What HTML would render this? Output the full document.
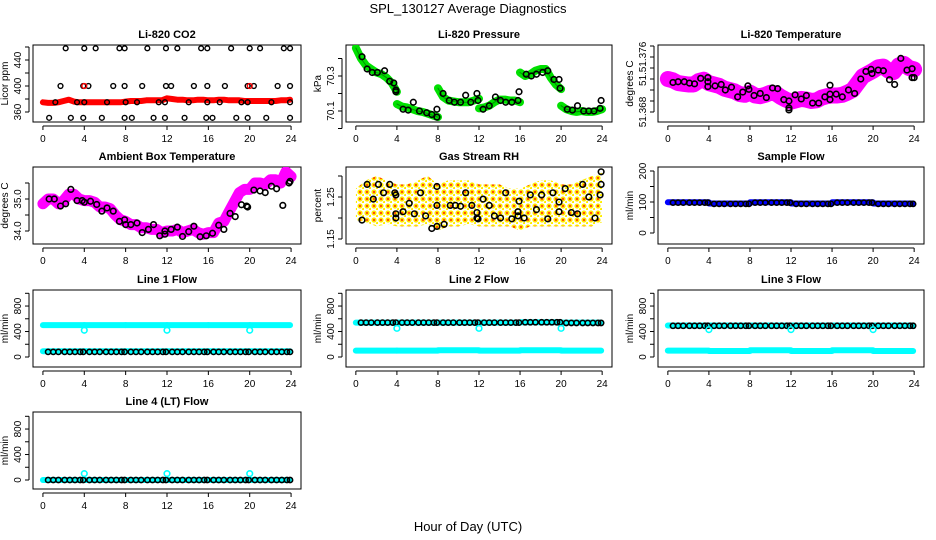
<!DOCTYPE html>
<html><head><meta charset="utf-8"><style>
html,body{margin:0;padding:0;background:#fff}
svg{display:block;font-family:"Liberation Sans",sans-serif}
</style></head><body>
<svg id="c" width="936" height="540" viewBox="0 0 936 540" xmlns="http://www.w3.org/2000/svg">
<defs>
<pattern id="rhpat" width="7" height="7" patternUnits="userSpaceOnUse">
<rect width="7" height="7" fill="#ffffff"/><circle cx="3" cy="3" r="2.6" fill="#ffee00"/><circle cx="3" cy="3" r="1.2" fill="#ff5000"/>
<circle cx="6.5" cy="6.5" r="1.6" fill="#ffee00"/>
</pattern>
</defs>
<text x="468" y="13" text-anchor="middle" font-size="13">SPL_130127  Average Diagnostics</text>
<text x="468" y="531" text-anchor="middle" font-size="13">Hour of Day (UTC)</text>
</svg>
<script>
// ---- data ----
const xTicks = [0,4,8,12,16,20,24];
// CO2
const co2RedHours = [0,0.5,1,1.5,2,2.5,3,3.5,4,4.5,5,5.5,6,6.5,7,7.5,8,8.5,9,9.5,10,10.5,11,11.5,12,12.5,13,13.5,14,14.5,15,15.5,16,16.5,17,17.5,18,18.5,19,19.5,20,20.5,21,21.5,22,22.5,23,23.5,23.9];
const co2Red = [375,374,374,375,377,379,376,375,375,375,375,375,375,375,375,375,376,377,377,377,378,378,378,378,381,380,379,379,378,378,379,379,378,378,379,379,378,378,378,377,377,377,377,377,377,377,378,378,379];
const co2BlackHours = [2.2,4,5.1,7.4,7.9,10.1,11.9,13,15.3,15.9,18.2,20,21,23.3,23.9, 1.7,3.9,4.4,6.8,7.9,9.6,11.9,12.4,14.6,15.9,17.6,19.8,20.4,22.7,23.9, 1.2,3.3,4,6.2,8,9.1,11.2,11.8,14.1,15.9,17.1,19.2,19.8,22.1,23.9, 0.6,2.7,3.9,5.7,7.9,8.6,10.7,11.8,13.7,15.8,16.4,18.7,19.8,21.6,23.9];
const co2Black = [458,458,458,458,458,458,458,458,458,458,458,458,458,458,458, 400,400,400,400,400,400,400,400,400,400,400,400,400,400,400, 375,375,375,375,375,375,375,375,375,375,375,375,375,375,375, 351,351,351,351,351,351,351,351,351,351,351,351,351,351,351];
// Pressure
const presHours = [0,0.5,1,1.5,2,2.5,3,3.5,4,4,4.5,5,5.5,6,6.5,7,7.5,8,8,8.5,9,9.5,10,10.5,11,11.5,12,12,12.5,13,13.5,14,14.5,15,15.5,16,16,16.5,17,17.5,18,18.5,19,19.5,20,20,20.5,21,21.5,22,22.5,23,23.5,24];
const presVals = [70.46,70.40,70.36,70.34,70.32,70.31,70.29,70.26,70.21,70.14,70.125,70.12,70.11,70.10,70.095,70.085,70.075,70.065,70.23,70.18,70.16,70.155,70.15,70.15,70.15,70.16,70.17,70.115,70.12,70.13,70.15,70.165,70.165,70.16,70.16,70.15,70.32,70.30,70.31,70.33,70.34,70.34,70.29,70.25,70.225,70.13,70.11,70.10,70.095,70.10,70.095,70.095,70.10,70.11];
const presBlackHours = [0.6,1.1,1.6,2.1,2.8,3.3,3.7,3.9,3.9,4.6,5.1,5.6,6.2,6.9,7.4,7.9,7.9,8.5,9.1,9.6,10.2,10.7,11.2,11.8,11.9,12.4,13,13.6,14.1,14.6,15.2,15.8,15.9,16.6,17.1,17.6,18.2,18.7,19.3,19.8,19.9,20.6,21.1,21.6,22.2,22.7,23.2,23.8,23.9];
const presBlack = [70.41,70.34,70.32,70.32,70.33,70.27,70.26,70.21,70.22,70.11,70.105,70.15,70.10,70.09,70.08,70.065,70.11,70.2,70.16,70.15,70.15,70.19,70.15,70.2,70.16,70.11,70.13,70.18,70.16,70.15,70.15,70.16,70.21,70.31,70.3,70.31,70.32,70.33,70.28,70.28,70.23,70.11,70.105,70.13,70.1,70.1,70.1,70.115,70.16];
// Li-820 temperature
const tempHours = [0,0.5,1,1.5,2,2.5,3,3.5,4,4.5,5,5.5,6,6.5,7,7.5,8,8.5,9,9.5,10,10.5,11,11.5,12,12.5,13,13.5,14,14.5,15,15.5,16,16.5,17,17.5,18,18.5,19,19.5,20,20.5,21,21.5,22,22.5,23,23.5,24];
const tempVals = [51.3728,51.3726,51.3722,51.3721,51.372,51.372,51.3725,51.3727,51.3722,51.372,51.3718,51.3714,51.3712,51.371,51.3706,51.3705,51.3708,51.3704,51.3703,51.3705,51.3708,51.3707,51.3702,51.3698,51.3695,51.3697,51.3699,51.3698,51.3696,51.3697,51.3701,51.3703,51.3704,51.3704,51.3705,51.3708,51.3712,51.3722,51.3732,51.3736,51.374,51.3745,51.3746,51.374,51.3738,51.3748,51.375,51.3744,51.3742];
const tempBlackHours = [0.5,1,1.6,2.1,2.6,3.2,3.9,3.9,3.9,4.6,5.2,5.6,6.2,6.8,7.3,7.8,7.9,8.4,9,9.6,10.2,10.7,11.3,11.8,11.8,11.8,12.4,13,13.5,14.1,14.7,15.3,15.8,15.8,15.8,16.4,17,17.6,18.2,18.8,19.3,19.8,19.9,20.5,21,21.6,22.1,22.7,23.3,23.8,23.8,24];
const tempBlack = [51.3723,51.3724,51.3724,51.3722,51.3721,51.3729,51.373,51.3724,51.3717,51.3718,51.372,51.3712,51.3716,51.3702,51.3709,51.3718,51.3713,51.3704,51.3707,51.3701,51.3715,51.3714,51.3698,51.3696,51.3686,51.3683,51.3705,51.3699,51.3704,51.3693,51.3693,51.3702,51.3706,51.3719,51.3698,51.3706,51.3702,51.3712,51.3707,51.3728,51.3739,51.3742,51.3736,51.3741,51.374,51.3727,51.372,51.3758,51.3741,51.3743,51.373,51.373];
// Ambient box temperature
const ambHours = tempHours;
const ambVals = [34.85,35.0,35.0,34.85,34.95,35.15,35.15,35.0,34.95,34.95,34.9,34.75,34.75,34.7,34.5,34.35,34.3,34.2,34.2,34.1,34.1,34.05,34.05,33.95,34.0,34.0,34.05,33.95,34.0,34.05,33.95,33.9,33.95,33.95,34.25,34.3,34.6,34.9,35.2,35.3,35.3,35.5,35.5,35.45,35.6,35.6,35.5,35.85,35.7];
const ambBlackHours = [0.6,1.1,1.7,2.2,2.7,3.3,3.8,4,4.6,5.2,5.7,6.2,6.8,7.4,7.9,8,8.5,9.1,9.6,10.2,10.7,11.3,11.8,11.8,12.4,13,13.5,14.1,14.6,15.2,15.8,16.4,17,17.5,18.1,18.6,19.2,19.7,19.8,20.4,21,21.5,22.1,22.6,23.2,23.8,23.9];
const ambBlack = [35.0,35.0,34.78,34.85,35.3,34.95,34.95,34.9,34.93,34.83,34.62,34.72,34.62,34.3,34.35,34.2,34.2,34.25,33.95,34.05,34.2,33.85,34.0,33.9,34.05,34.12,33.83,33.98,34.15,33.82,33.85,33.93,34.18,34.05,34.55,34.45,34.82,34.78,34.75,35.28,35.25,35.2,35.4,35.32,34.8,35.5,35.55];
// Gas stream RH
const rhHours = [0,1,2,3,4,5,6,7,8,9,10,11,12,13,14,15,16,17,18,19,20,21,22,23,24];
const rhHi = [1.27,1.29,1.30,1.29,1.28,1.28,1.29,1.30,1.28,1.29,1.29,1.29,1.28,1.28,1.28,1.27,1.27,1.28,1.29,1.29,1.28,1.28,1.29,1.30,1.31];
const rhLo = [1.195,1.19,1.18,1.185,1.18,1.18,1.18,1.185,1.17,1.18,1.18,1.185,1.18,1.18,1.18,1.18,1.17,1.18,1.18,1.18,1.18,1.18,1.18,1.18,1.19];
const rhBlackHours = [0.6,1.1,1.7,2.2,2.7,3.3,3.8,3.9,3.9,3.9,4.6,5.2,5.7,6.3,6.8,7.4,7.9,7.9,7.9,8.6,9.2,9.7,10.2,10.7,11.3,11.8,11.8,11.9,12.4,13,13.5,14.1,14.6,15.2,15.8,15.8,15.9,16.4,17,17.6,18.1,18.7,19.2,19.8,19.8,20.4,21,21.6,22.1,22.7,23.3,23.8,23.9,23.9];
const rhBlack = [1.195,1.28,1.245,1.28,1.26,1.28,1.26,1.255,1.21,1.20,1.215,1.235,1.21,1.26,1.205,1.175,1.18,1.23,1.275,1.185,1.23,1.23,1.228,1.26,1.23,1.213,1.2,1.198,1.245,1.23,1.205,1.2,1.26,1.198,1.215,1.205,1.24,1.2,1.255,1.22,1.255,1.198,1.26,1.238,1.215,1.27,1.213,1.21,1.28,1.25,1.2,1.255,1.28,1.31];
// Flows (per 4-hour block)
const blockStarts = [0,4,8,12,16,20];
const sampleBlue = [99,95,99,95,99,95];
const sampleBlack = [98,94,98,94,98,94];
const flowTimes = [0.5,1,1.5,2.1,2.6,3.1,3.6,3.9,4.5,5,5.5,6.1,6.6,7.1,7.6,7.9,8.5,9,9.5,10.1,10.6,11.1,11.6,11.9,12.5,13,13.5,14.1,14.6,15.1,15.6,15.9,16.5,17,17.5,18.1,18.6,19.1,19.6,19.9,20.5,21,21.5,22.1,22.6,23.1,23.6,23.9];
const outlierHours = [4,12,20];
const line1Hi = [500,500,500,500,500,500], line1Lo = [90,90,90,90,90,90], line1Black = [80,80,80,80,80,80], line1Out = [420,420,420];
const line2Hi = [540,540,540,540,545,540], line2Lo = [100,100,105,100,105,100], line2Black = [540,540,540,540,545,535], line2Out = [450,450,450];
const line3Hi = [495,495,495,495,495,495], line3Lo = [100,95,105,95,105,95], line3Black = [490,490,490,490,490,490], line3Out = [430,430,430];
const line4Cyan = [0,0,0,0,0,0], line4Black = [0,0,0,0,0,0], line4Out = [100,100,100];

// ---- drawing ----
const NS = "http://www.w3.org/2000/svg";
const svg = document.getElementById('c');
const COLS = [[33,301],[346,612],[658,924]];
const ROWS = [[45,122],[167,244],[290,367],[412,489]];
function mk(tag, attrs, parent){ const e=document.createElementNS(NS,tag); for(const k in attrs) e.setAttribute(k,attrs[k]); (parent||svg).appendChild(e); return e; }

function panel(ci, ri, title, ylab, v0, y0, ppu, yticks, ylabels, name){
  const [L,R]=COLS[ci], [T,B]=ROWS[ri];
  const g = mk('g',{});
  
  
  const sx = h => L + (h+0.96)/25.92*(R-L);
  const sy = v => y0 - (v-v0)*ppu;
  const box = mk('rect',{x:L,y:T,width:R-L,height:B-T,fill:'none',stroke:'#000','stroke-width':1},g);
  
  
  const t = mk('text',{x:(L+R)/2,y:T-7,'text-anchor':'middle','font-size':11,'font-weight':'bold'},g);
  t.textContent = title;
  
  
  const xa = mk('g',{},g);
  
  
  mk('line',{x1:sx(0),x2:sx(24),y1:B+4,y2:B+4,stroke:'#000'},xa);
  xTicks.forEach(h=>{
    mk('line',{x1:sx(h),x2:sx(h),y1:B+4,y2:B+8,stroke:'#000'},xa);
    const tl=mk('text',{x:sx(h),y:B+20,'text-anchor':'middle','font-size':10},xa);
    tl.textContent=h;
    
    
  });
  const ya = mk('g',{},g);
  
  
  mk('line',{x1:L-4,x2:L-4,y1:sy(yticks[0]),y2:sy(yticks[yticks.length-1]),stroke:'#000'},ya);
  yticks.forEach(v=>mk('line',{x1:L-8,x2:L-4,y1:sy(v),y2:sy(v),stroke:'#000'},ya));
  ylabels.forEach(([v,s])=>{
    const yy=sy(v);
    const tl=mk('text',{x:L-12,y:yy,'text-anchor':'middle','font-size':10,transform:`rotate(-90 ${L-12} ${yy})`},ya);
    tl.textContent=s;
    
    
  });
  const yl=mk('text',{x:L-25,y:(T+B)/2,'text-anchor':'middle','font-size':10,transform:`rotate(-90 ${L-25} ${(T+B)/2})`},g);
  yl.textContent=ylab;
  
  
  const clipId='cl'+ci+ri;
  const cp=mk('clipPath',{id:clipId},g); mk('rect',{x:L,y:T,width:R-L,height:B-T},cp);
  const plot=mk('g',{'clip-path':`url(#${clipId})`},g);
  return {sx,sy,plot};
}
function band(p, hours, vals, color, w, nm){
  let d='';
  hours.forEach((h,i)=>{ const brk = i===0 || hours[i]===hours[i-1]; d += (brk?'M':'L')+p.sx(h).toFixed(1)+' '+p.sy(vals[i]).toFixed(1)+' '; });
  const e=mk('path',{d:d,fill:'none',stroke:color,'stroke-width':w,'stroke-linecap':'round','stroke-linejoin':'round'},p.plot);
  
  
}
function pts(p, hours, vals, color, nm, r, sw){
  hours.forEach((h,i)=>{
    const c=mk('circle',{cx:p.sx(h),cy:p.sy(vals[i]),r:r||2.8,fill:'none',stroke:color,'stroke-width':sw||1.6},p.plot);
    
    
  });
}
function blocks(p, vals, color, w, nm, endH){
  vals.forEach((v,i)=>{
    const h0=blockStarts[i], h1=Math.min(h0+4,endH);
    const e=mk('line',{x1:p.sx(h0),x2:p.sx(h1),y1:p.sy(v),y2:p.sy(v),stroke:color,'stroke-width':w,'stroke-linecap':'round'},p.plot);
    
    
  });
}
function blockPts(p, vals, color, nm){
  flowTimes.forEach(h=>{
    const i=Math.min(5,Math.floor(h/4));
    const c=mk('circle',{cx:p.sx(h),cy:p.sy(vals[i]),r:2.6,fill:'none',stroke:color,'stroke-width':1.6},p.plot);
    
    
  });
}

// 1 CO2
let p=panel(0,0,'Li-820 CO2','Licor ppm',360,112,0.65,[360,380,400,420,440,460],[[360,'360'],[400,'400'],[440,'440']],'co2');
band(p,co2RedHours,co2Red,'#ff0000',6,'co2-red-series');
pts(p,co2BlackHours,co2Black,'#000','co2-black-point',2.4,1.4);
pts(p,[4,20],[400,400],'#ff0000','co2-red-point',2.4,1.4);
// 2 Pressure
p=panel(1,0,'Li-820 Pressure','kPa',70.1,111,175,[70.0,70.1,70.2,70.3,70.4],[[70.1,'70.1'],[70.3,'70.3']],'pressure');
band(p,presHours,presVals,'#00e000',8,'pressure-green-series');
band(p,presHours,presVals,'#009000',1,'pressure-green-core');
pts(p,presBlackHours,presBlack,'#000','pressure-black-point');
// 3 Temperature
p=panel(2,0,'Li-820 Temperature','degrees C',51.368,112,11/0.0016,[51.368,51.3696,51.3712,51.3728,51.3744,51.376,51.3776],[[51.368,'51.368'],[51.3728,'51.'],[51.376,'51.376']],'li820-temperature');
band(p,tempHours,tempVals,'#ff00ff',16,'temperature-magenta-series');
pts(p,tempBlackHours,tempBlack,'#000','temperature-black-point');
// 4 Ambient
p=panel(0,1,'Ambient Box Temperature','degrees C',34,231,32,[34,34.5,35,35.5],[[34,'34.0'],[35,'35.0']],'ambient');
band(p,ambHours,ambVals,'#ff00ff',11,'ambient-magenta-series');
pts(p,ambBlackHours,ambBlack,'#000','ambient-black-point');
// 5 RH
p=panel(1,1,'Gas Stream RH','percent',1.15,239,420,[1.15,1.2,1.25,1.3],[[1.15,'1.15'],[1.25,'1.25']],'rh');
{
  let d='M';
  rhHours.forEach((h,i)=>{ d+=p.sx(h).toFixed(1)+' '+p.sy(rhHi[i]).toFixed(1)+' L'; });
  for(let i=rhHours.length-1;i>=0;i--){ d+=p.sx(rhHours[i]).toFixed(1)+' '+p.sy(rhLo[i]).toFixed(1)+(i?' L':' Z'); }
  const e=mk('path',{d:d,fill:'url(#rhpat)',stroke:'none'},p.plot);
  
  
}
pts(p,rhBlackHours,rhBlack,'#000','rh-black-point');
// 6 Sample flow
p=panel(2,1,'Sample Flow','ml/min',0,233,0.31,[0,50,100,150,200],[[0,'0'],[100,'100'],[200,'200']],'sample-flow');
blocks(p,sampleBlue,'#0000ff',6,'sample-flow-blue-series',23.9);
blockPts(p,sampleBlack,'#000','sample-flow-black-point');
// 7-10 Line flows
const fT=[0,200,400,600,800,1000], fL=[[0,'0'],[400,'400'],[800,'800']];
p=panel(0,2,'Line 1 Flow','ml/min',0,357,0.0637,fT,fL,'line1-flow');
blocks(p,line1Hi,'#00ffff',6,'line1-cyan-high',23.9);
blocks(p,line1Lo,'#00ffff',6,'line1-cyan-low',23.9);
blockPts(p,line1Black,'#000','line1-black-point');
pts(p,outlierHours,line1Out,'#00ffff','line1-cyan-outlier');
p=panel(1,2,'Line 2 Flow','ml/min',0,357,0.0637,fT,fL,'line2-flow');
blocks(p,line2Hi,'#00ffff',6,'line2-cyan-high',23.9);
blocks(p,line2Lo,'#00ffff',6,'line2-cyan-low',23.9);
blockPts(p,line2Black,'#000','line2-black-point');
pts(p,outlierHours,line2Out,'#00ffff','line2-cyan-outlier');
p=panel(2,2,'Line 3 Flow','ml/min',0,357,0.0637,fT,fL,'line3-flow');
blocks(p,line3Hi,'#00ffff',6,'line3-cyan-high',23.9);
blocks(p,line3Lo,'#00ffff',6,'line3-cyan-low',23.9);
blockPts(p,line3Black,'#000','line3-black-point');
pts(p,outlierHours,line3Out,'#00ffff','line3-cyan-outlier');
p=panel(0,3,'Line 4 (LT) Flow','ml/min',0,480,0.0637,fT,fL,'line4-flow');
blocks(p,line4Cyan,'#00ffff',6,'line4-cyan-series',23.9);
blockPts(p,line4Black,'#000','line4-black-point');
pts(p,outlierHours,line4Out,'#00ffff','line4-cyan-outlier');
</script>
</body></html>
